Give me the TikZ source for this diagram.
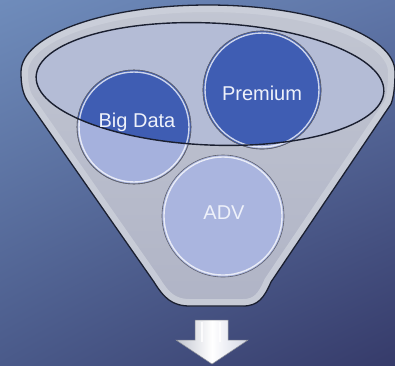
\documentclass[tikz,border=0pt]{standalone}
\usepackage{fontspec}
\setmainfont{Liberation Sans}
\usetikzlibrary{shadings}
\definecolor{bgUL}{HTML}{6F8CBB}
\definecolor{bgUR}{HTML}{5F76A8}
\definecolor{bgLL}{HTML}{4A5A8A}
\definecolor{bgLR}{HTML}{363B6A}
\definecolor{rimcol}{HTML}{CDD1DB}
\definecolor{bodytop}{HTML}{C2C6D2}
\definecolor{bodybot}{HTML}{B0B4C6}
\definecolor{innercol}{HTML}{B4BCD6}
\definecolor{lightball}{HTML}{A5B1DD}
\definecolor{darkball}{HTML}{3F5DB3}
\definecolor{outline}{HTML}{1A1F30}
\definecolor{arrowcol}{HTML}{D2D6E4}
\definecolor{txtcol}{HTML}{EEF1FA}
\tikzset{
  ball/.style={circle, inner sep=0pt, fill=lightball, draw=outline!70, line width=0.6pt},
  balltext/.style={text=txtcol, font=\fontsize{20}{20}\selectfont, inner sep=0pt},
  ring/.style={draw=white, opacity=0.75, line width=1.4pt},
}
\begin{document}
\begin{tikzpicture}[x=1pt,y=-1pt]
\useasboundingbox (0,0) rectangle (395,365);
% background
\shade[upper left=bgUL, upper right=bgUR, lower left=bgLL, lower right=bgLR] (0,0) rectangle (395,365);
% funnel body
\def\funnelpath{(21,72) arc[start angle=180, end angle=360, x radius=187, y radius=67]
  .. controls (395,85) and (394,96) .. (391,104)
  -- (271,282) .. controls (264,298) and (258,306) .. (243,306)
  -- (190,306) .. controls (172,306) and (164,298) .. (154,282)
  -- (27,100) .. controls (22,92) and (21,82) .. (21,72) -- cycle}
\shade[top color=bodytop, bottom color=bodybot] \funnelpath;
\begin{scope}
  \clip \funnelpath;
  \draw[rimcol, line width=14pt, opacity=0.8] \funnelpath;
\end{scope}
\draw[outline, line width=1.3pt] \funnelpath;
% inner ellipse fill
\coordinate (ec) at (210,84);
\fill[innercol, rotate around={-2.5:(ec)}] (ec) ellipse [x radius=174, y radius=61];
% balls
\node[ball, minimum size=114pt] (bigdata) at (134,127) {};
\node[ball, minimum size=118pt] (premium) at (262,90) {};
\node[ball, minimum size=122pt, fill=lightball!95!white] (adv) at (223,216) {};
\begin{scope}
  \clip[rotate around={-2.5:(ec)}] (ec) ellipse [x radius=174, y radius=61];
  \fill[darkball] (bigdata.center) circle (57);
  \fill[darkball] (premium.center) circle (59);
\end{scope}
\draw[ring] (bigdata.center) circle (55);
\draw[ring] (premium.center) circle (57);
\draw[ring] (adv.center) circle (59);
\draw[outline!70, line width=0.6pt] (bigdata.center) circle (57);
\draw[outline!70, line width=0.6pt] (premium.center) circle (59);
% inner ellipse outline
\draw[outline, line width=1.4pt, rotate around={-2.5:(ec)}] (ec) ellipse [x radius=174, y radius=61];
% texts
\node[balltext] (tbig) at (137,122) {Big Data};
\node[balltext] (tprem) at (262,93) {Premium};
\node[balltext] (tadv) at (224,213) {ADV};
% arrow
\coordinate (a1) at (195,320);
\coordinate (a2) at (228,320);
\coordinate (a3) at (228,340);
\coordinate (a4) at (248,340);
\coordinate (a5) at (212,364);
\coordinate (a6) at (176,340);
\coordinate (a7) at (195,340);
\shade[left color=arrowcol!80!gray, right color=arrowcol, middle color=white, draw=outline!50, line width=0.5pt]
  (a1) -- (a2) -- (a3) -- (a4) -- (a5) -- (a6) -- (a7) -- cycle;
\draw[white, line width=1.5pt, opacity=0.8] (202,322) -- (202,342);
\draw[white, line width=1.5pt, opacity=0.8] (220,322) -- (220,342);
\end{tikzpicture}
\end{document}
